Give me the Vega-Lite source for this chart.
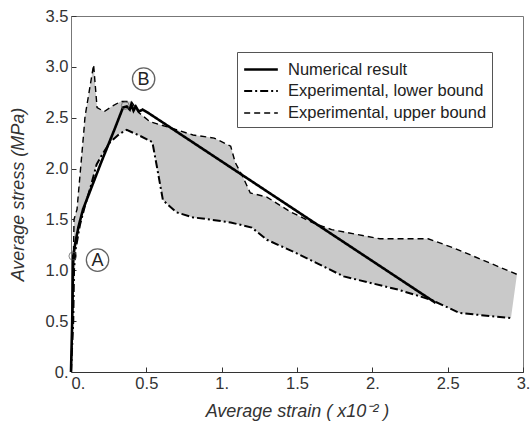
{
  "$schema": "https://vega.github.io/schema/vega-lite/v6.json",
  "width": 452,
  "height": 356,
  "autosize": {"type": "none"},
  "padding": {"left": 71, "top": 16, "right": 8, "bottom": 58},
  "background": "white",
  "config": {
    "font": "Liberation Sans",
    "view": {"stroke": "#777", "strokeWidth": 1},
    "axis": {
      "grid": false,
      "labelFont": "Liberation Sans",
      "labelFontSize": 16.5,
      "labelColor": "#333",
      "titleFont": "Liberation Sans",
      "titleFontSize": 18,
      "titleFontStyle": "italic",
      "titleFontWeight": "normal",
      "titleColor": "#333",
      "domainColor": "#333",
      "tickColor": "#333",
      "tickSize": -5,
      "labelFlush": false
    },
    "legend": {
      "orient": "none",
      "legendX": 166,
      "legendY": 36,
      "padding": 5,
      "rowPadding": 1,
      "strokeColor": "#555",
      "fillColor": "white",
      "labelFont": "Liberation Sans",
      "labelFontSize": 16.5,
      "labelColor": "#222",
      "labelOffset": 14.5,
      "labelLimit": 400,
      "symbolType": "M-1.53,0L1.53,0",
      "symbolSize": 484,
      "symbolOffset": 6.5,
      "symbolStrokeColor": "black"
    }
  },
  "datasets": {
    "curves": [
      {"series": "Numerical result", "o": 1, "x": 0, "y": 0},
      {"series": "Numerical result", "o": 2, "x": 0.008, "y": 0.5},
      {"series": "Numerical result", "o": 3, "x": 0.012, "y": 0.9},
      {"series": "Numerical result", "o": 4, "x": 0.015, "y": 1.14},
      {"series": "Numerical result", "o": 5, "x": 0.03, "y": 1.28},
      {"series": "Numerical result", "o": 6, "x": 0.05, "y": 1.43},
      {"series": "Numerical result", "o": 7, "x": 0.08, "y": 1.6},
      {"series": "Numerical result", "o": 8, "x": 0.2, "y": 2.06},
      {"series": "Numerical result", "o": 9, "x": 0.29, "y": 2.39},
      {"series": "Numerical result", "o": 10, "x": 0.345, "y": 2.6},
      {"series": "Numerical result", "o": 11, "x": 0.37, "y": 2.61},
      {"series": "Numerical result", "o": 12, "x": 0.39, "y": 2.58},
      {"series": "Numerical result", "o": 13, "x": 0.4, "y": 2.63},
      {"series": "Numerical result", "o": 14, "x": 0.415, "y": 2.57},
      {"series": "Numerical result", "o": 15, "x": 0.43, "y": 2.61},
      {"series": "Numerical result", "o": 16, "x": 0.45, "y": 2.56},
      {"series": "Numerical result", "o": 17, "x": 0.475, "y": 2.58},
      {"series": "Numerical result", "o": 18, "x": 0.51, "y": 2.55},
      {"series": "Numerical result", "o": 19, "x": 2.42, "y": 0.68},
      {"series": "Experimental, lower bound", "o": 1, "x": 0, "y": 0},
      {"series": "Experimental, lower bound", "o": 2, "x": 0.015, "y": 0.5},
      {"series": "Experimental, lower bound", "o": 3, "x": 0.02, "y": 1.0},
      {"series": "Experimental, lower bound", "o": 4, "x": 0.03, "y": 1.2},
      {"series": "Experimental, lower bound", "o": 5, "x": 0.06, "y": 1.45},
      {"series": "Experimental, lower bound", "o": 6, "x": 0.09, "y": 1.62},
      {"series": "Experimental, lower bound", "o": 7, "x": 0.13, "y": 1.82},
      {"series": "Experimental, lower bound", "o": 8, "x": 0.17, "y": 2.04},
      {"series": "Experimental, lower bound", "o": 9, "x": 0.2, "y": 2.12},
      {"series": "Experimental, lower bound", "o": 10, "x": 0.26, "y": 2.26},
      {"series": "Experimental, lower bound", "o": 11, "x": 0.32, "y": 2.34},
      {"series": "Experimental, lower bound", "o": 12, "x": 0.37, "y": 2.38},
      {"series": "Experimental, lower bound", "o": 13, "x": 0.46, "y": 2.32},
      {"series": "Experimental, lower bound", "o": 14, "x": 0.54, "y": 2.26},
      {"series": "Experimental, lower bound", "o": 15, "x": 0.57, "y": 2.02},
      {"series": "Experimental, lower bound", "o": 16, "x": 0.61, "y": 1.69},
      {"series": "Experimental, lower bound", "o": 17, "x": 0.7, "y": 1.57},
      {"series": "Experimental, lower bound", "o": 18, "x": 0.81, "y": 1.52},
      {"series": "Experimental, lower bound", "o": 19, "x": 0.92, "y": 1.5},
      {"series": "Experimental, lower bound", "o": 20, "x": 1.06, "y": 1.47},
      {"series": "Experimental, lower bound", "o": 21, "x": 1.2, "y": 1.42},
      {"series": "Experimental, lower bound", "o": 22, "x": 1.3, "y": 1.3},
      {"series": "Experimental, lower bound", "o": 23, "x": 1.48, "y": 1.18},
      {"series": "Experimental, lower bound", "o": 24, "x": 1.81, "y": 0.94},
      {"series": "Experimental, lower bound", "o": 25, "x": 2.17, "y": 0.81},
      {"series": "Experimental, lower bound", "o": 26, "x": 2.39, "y": 0.71},
      {"series": "Experimental, lower bound", "o": 27, "x": 2.58, "y": 0.58},
      {"series": "Experimental, lower bound", "o": 28, "x": 2.92, "y": 0.53},
      {"series": "Experimental, upper bound", "o": 1, "x": 0, "y": 0},
      {"series": "Experimental, upper bound", "o": 2, "x": 0.01, "y": 0.5},
      {"series": "Experimental, upper bound", "o": 3, "x": 0.015, "y": 1.0},
      {"series": "Experimental, upper bound", "o": 4, "x": 0.02, "y": 1.5},
      {"series": "Experimental, upper bound", "o": 5, "x": 0.04, "y": 1.6},
      {"series": "Experimental, upper bound", "o": 6, "x": 0.086, "y": 2.38},
      {"series": "Experimental, upper bound", "o": 7, "x": 0.093, "y": 2.51},
      {"series": "Experimental, upper bound", "o": 8, "x": 0.15, "y": 3.02},
      {"series": "Experimental, upper bound", "o": 9, "x": 0.173, "y": 2.6},
      {"series": "Experimental, upper bound", "o": 10, "x": 0.22, "y": 2.56},
      {"series": "Experimental, upper bound", "o": 11, "x": 0.27, "y": 2.61},
      {"series": "Experimental, upper bound", "o": 12, "x": 0.33, "y": 2.66},
      {"series": "Experimental, upper bound", "o": 13, "x": 0.4, "y": 2.66},
      {"series": "Experimental, upper bound", "o": 14, "x": 0.45, "y": 2.55},
      {"series": "Experimental, upper bound", "o": 15, "x": 0.525, "y": 2.46},
      {"series": "Experimental, upper bound", "o": 16, "x": 0.64, "y": 2.41},
      {"series": "Experimental, upper bound", "o": 17, "x": 0.81, "y": 2.33},
      {"series": "Experimental, upper bound", "o": 18, "x": 0.95, "y": 2.3},
      {"series": "Experimental, upper bound", "o": 19, "x": 1.06, "y": 2.22},
      {"series": "Experimental, upper bound", "o": 20, "x": 1.09, "y": 2.06},
      {"series": "Experimental, upper bound", "o": 21, "x": 1.14, "y": 1.92},
      {"series": "Experimental, upper bound", "o": 22, "x": 1.19, "y": 1.76},
      {"series": "Experimental, upper bound", "o": 23, "x": 1.3, "y": 1.72},
      {"series": "Experimental, upper bound", "o": 24, "x": 1.45, "y": 1.58},
      {"series": "Experimental, upper bound", "o": 25, "x": 1.6, "y": 1.47},
      {"series": "Experimental, upper bound", "o": 26, "x": 1.73, "y": 1.4},
      {"series": "Experimental, upper bound", "o": 27, "x": 2.05, "y": 1.31},
      {"series": "Experimental, upper bound", "o": 28, "x": 2.37, "y": 1.31},
      {"series": "Experimental, upper bound", "o": 29, "x": 2.54, "y": 1.22},
      {"series": "Experimental, upper bound", "o": 30, "x": 2.96, "y": 0.96}
    ],
    "band": [
      {"o": 1, "x": 0, "y": 0},
      {"o": 2, "x": 0.01, "y": 0.5},
      {"o": 3, "x": 0.015, "y": 1.0},
      {"o": 4, "x": 0.02, "y": 1.5},
      {"o": 5, "x": 0.04, "y": 1.6},
      {"o": 6, "x": 0.086, "y": 2.38},
      {"o": 7, "x": 0.093, "y": 2.51},
      {"o": 8, "x": 0.15, "y": 3.02},
      {"o": 9, "x": 0.173, "y": 2.6},
      {"o": 10, "x": 0.22, "y": 2.56},
      {"o": 11, "x": 0.27, "y": 2.61},
      {"o": 12, "x": 0.33, "y": 2.66},
      {"o": 13, "x": 0.4, "y": 2.66},
      {"o": 14, "x": 0.45, "y": 2.55},
      {"o": 15, "x": 0.525, "y": 2.46},
      {"o": 16, "x": 0.64, "y": 2.41},
      {"o": 17, "x": 0.81, "y": 2.33},
      {"o": 18, "x": 0.95, "y": 2.3},
      {"o": 19, "x": 1.06, "y": 2.22},
      {"o": 20, "x": 1.09, "y": 2.06},
      {"o": 21, "x": 1.14, "y": 1.92},
      {"o": 22, "x": 1.19, "y": 1.76},
      {"o": 23, "x": 1.3, "y": 1.72},
      {"o": 24, "x": 1.45, "y": 1.58},
      {"o": 25, "x": 1.6, "y": 1.47},
      {"o": 26, "x": 1.73, "y": 1.4},
      {"o": 27, "x": 2.05, "y": 1.31},
      {"o": 28, "x": 2.37, "y": 1.31},
      {"o": 29, "x": 2.54, "y": 1.22},
      {"o": 30, "x": 2.96, "y": 0.96},
      {"o": 31, "x": 2.92, "y": 0.53},
      {"o": 32, "x": 2.58, "y": 0.58},
      {"o": 33, "x": 2.39, "y": 0.71},
      {"o": 34, "x": 2.17, "y": 0.81},
      {"o": 35, "x": 1.81, "y": 0.94},
      {"o": 36, "x": 1.48, "y": 1.18},
      {"o": 37, "x": 1.3, "y": 1.3},
      {"o": 38, "x": 1.2, "y": 1.42},
      {"o": 39, "x": 1.06, "y": 1.47},
      {"o": 40, "x": 0.92, "y": 1.5},
      {"o": 41, "x": 0.81, "y": 1.52},
      {"o": 42, "x": 0.7, "y": 1.57},
      {"o": 43, "x": 0.61, "y": 1.69},
      {"o": 44, "x": 0.57, "y": 2.02},
      {"o": 45, "x": 0.54, "y": 2.26},
      {"o": 46, "x": 0.46, "y": 2.32},
      {"o": 47, "x": 0.37, "y": 2.38},
      {"o": 48, "x": 0.32, "y": 2.34},
      {"o": 49, "x": 0.26, "y": 2.26},
      {"o": 50, "x": 0.2, "y": 2.12},
      {"o": 51, "x": 0.17, "y": 2.04},
      {"o": 52, "x": 0.13, "y": 1.82},
      {"o": 53, "x": 0.09, "y": 1.62},
      {"o": 54, "x": 0.06, "y": 1.45},
      {"o": 55, "x": 0.03, "y": 1.2},
      {"o": 56, "x": 0.02, "y": 1.0},
      {"o": 57, "x": 0.015, "y": 0.5},
      {"o": 58, "x": 0, "y": 0}
    ],
    "markers": [
      {"x": 0.012, "y": 1.14},
      {"x": 0.36, "y": 2.62}
    ],
    "labels": [
      {"lab": "A", "x": 0.176, "y": 1.1},
      {"lab": "B", "x": 0.482, "y": 2.88}
    ]
  },
  "encoding": {
    "x": {
      "field": "x",
      "type": "quantitative",
      "scale": {"domain": [0, 3], "nice": false, "zero": false},
      "axis": {
        "values": [0, 0.5, 1, 1.5, 2, 2.5, 3],
        "labelExpr": "datum.value % 1 === 0 ? format(datum.value, 'd') + '.' : format(datum.value, '.1f')",
        "labelAlign": {"condition": {"test": "datum.value === 0", "value": "left"}, "value": "center"},
        "labelPadding": 8,
        "title": "Average strain ( x10⁻² )",
        "titlePadding": 11
      }
    },
    "y": {
      "field": "y",
      "type": "quantitative",
      "scale": {"domain": [0, 3.5], "nice": false, "zero": false},
      "axis": {
        "values": [0, 0.5, 1, 1.5, 2, 2.5, 3, 3.5],
        "labelExpr": "datum.value === 0 ? '0.' : format(datum.value, '.1f')",
        "labelPadding": 8,
        "domainColor": "#777",
        "title": "Average stress (MPa)",
        "titlePadding": 18
      }
    }
  },
  "layer": [
    {
      "data": {"name": "band"},
      "mark": {"type": "line", "fill": "#c9c9c9", "stroke": "transparent", "strokeWidth": 0},
      "encoding": {"order": {"field": "o", "type": "quantitative"}}
    },
    {
      "data": {"name": "curves"},
      "mark": {"type": "line", "color": "black"},
      "encoding": {
        "order": {"field": "o", "type": "quantitative"},
        "strokeDash": {
          "field": "series",
          "type": "nominal",
          "scale": {
            "domain": ["Numerical result", "Experimental, lower bound", "Experimental, upper bound"],
            "range": [[1, 0], [8, 3, 2, 3], [6, 4]]
          },
          "legend": {"title": null, "labelExpr": "datum.label + '\u00a0\u00a0\u00a0\u00a0\u00a0\u00a0'"}
        },
        "strokeWidth": {
          "field": "series",
          "type": "nominal",
          "scale": {
            "domain": ["Numerical result", "Experimental, lower bound", "Experimental, upper bound"],
            "range": [2.6, 1.4, 1.4]
          },
          "legend": {"title": null, "labelExpr": "datum.label + '\u00a0\u00a0\u00a0\u00a0\u00a0\u00a0'"}
        }
      }
    },
    {
      "data": {"name": "markers"},
      "mark": {"type": "point", "shape": "circle", "size": 60, "filled": false, "stroke": "#555", "strokeWidth": 1}
    },
    {
      "data": {"name": "labels"},
      "mark": {"type": "point", "shape": "circle", "size": 500, "filled": false, "stroke": "#222", "strokeWidth": 1.3}
    },
    {
      "data": {"name": "labels"},
      "mark": {"type": "text", "fontSize": 18, "font": "Liberation Sans", "color": "#222", "baseline": "middle", "align": "center", "dy": 1},
      "encoding": {"text": {"field": "lab"}}
    }
  ]
}
